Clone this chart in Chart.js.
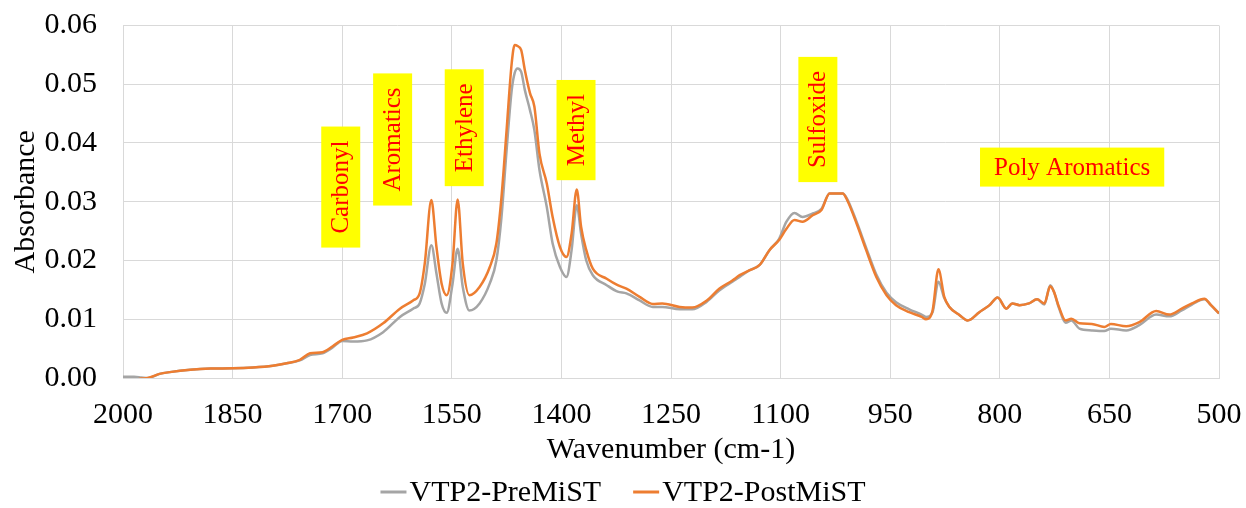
<!DOCTYPE html>
<html>
<head>
<meta charset="utf-8">
<title>FTIR spectra VTP2</title>
<script src="https://cdn.jsdelivr.net/npm/chart.js@4.4.1/dist/chart.umd.min.js"></script>
<style>
  html, body { margin: 0; padding: 0; background: #fff; }
  #wrap { width: 1246px; height: 508px; position: relative; }
</style>
</head>
<body>
<div id="wrap"><canvas id="spectrum"></canvas></div>
<script>
// wavenumber (cm-1) and absorbance for both samples
const wavenumbers = [
  2000, 1985, 1975, 1966, 1950, 1936, 1908, 1880, 1850, 1822, 1795, 1776, 1758, 1744, 1727, 1713,
  1700, 1685, 1666, 1644, 1621, 1603, 1594, 1587, 1578, 1571, 1564, 1557, 1549, 1542, 1535, 1526,
  1512, 1498, 1489, 1482, 1475, 1468, 1464, 1460, 1455, 1450, 1443, 1437, 1430, 1420, 1412, 1402,
  1393, 1386, 1379, 1373, 1366, 1357, 1338, 1323, 1311, 1293, 1275, 1262, 1238, 1221, 1201, 1184,
  1166, 1156, 1143, 1129, 1115, 1102, 1092, 1081, 1070, 1056, 1044, 1033, 1015, 1009, 996, 983,
  969, 955, 942, 924, 907, 901, 892, 884, 876, 869, 855, 844, 828, 814, 803, 791,
  783, 773, 760, 749, 739, 731, 726, 719, 710, 702, 691, 674, 657, 648, 627, 609,
  586, 568, 551, 537, 520, 511, 500
];
const preMiST = [
  0.0002, 0.0002, 0.0001, 0.0000, 0.0007, 0.0010, 0.0014, 0.0016, 0.00165, 0.0018, 0.0021, 0.0025, 0.0030, 0.0039, 0.0042, 0.0052,
  0.0063, 0.0062, 0.0064, 0.0078, 0.0104, 0.0118, 0.0127, 0.0160, 0.0226, 0.0178, 0.0127, 0.0111, 0.0160, 0.0220, 0.0155, 0.0115,
  0.0127, 0.0161, 0.0200, 0.0274, 0.0388, 0.0490, 0.0519, 0.0527, 0.0521, 0.0490, 0.0456, 0.0422, 0.0354, 0.0291, 0.0229, 0.0189,
  0.0172, 0.0218, 0.0294, 0.0245, 0.0200, 0.0175, 0.0158, 0.0147, 0.0144, 0.0132, 0.0121, 0.0121, 0.0117, 0.0117, 0.0130, 0.0149,
  0.0164, 0.0172, 0.0183, 0.0192, 0.0218, 0.0237, 0.0266, 0.0281, 0.0274, 0.0280, 0.0288, 0.0314, 0.0314, 0.0305, 0.0266, 0.0222,
  0.0176, 0.0145, 0.0129, 0.0117, 0.0108, 0.0104, 0.0112, 0.0164, 0.0136, 0.0121, 0.0107, 0.0098, 0.0112, 0.0124, 0.0137, 0.0118,
  0.0127, 0.0124, 0.0127, 0.0134, 0.0125, 0.0158, 0.0147, 0.0119, 0.0094, 0.0098, 0.0084, 0.0081, 0.0080, 0.0084, 0.0081, 0.0090,
  0.0108, 0.0105, 0.0115, 0.0125, 0.0134, 0.0124, 0.0110
];
const postMiST = [
  -0.0003, -0.0003, -0.0001, 0.0000, 0.0007, 0.0010, 0.0014, 0.0016, 0.00165, 0.0018, 0.0021, 0.0025, 0.0031, 0.0042, 0.0044, 0.0054,
  0.0065, 0.0069, 0.0076, 0.0093, 0.0118, 0.0132, 0.0144, 0.0195, 0.0303, 0.0223, 0.0161, 0.0141, 0.0195, 0.0304, 0.0195, 0.0141,
  0.0155, 0.0189, 0.0229, 0.0308, 0.0422, 0.0536, 0.0567, 0.0565, 0.0558, 0.0524, 0.0485, 0.0462, 0.0382, 0.0331, 0.0274, 0.0223,
  0.0206, 0.0246, 0.0321, 0.0257, 0.0218, 0.0186, 0.0169, 0.0158, 0.0152, 0.0138, 0.0126, 0.0127, 0.0121, 0.0120, 0.0132, 0.0152,
  0.0166, 0.0175, 0.0183, 0.0192, 0.0218, 0.0235, 0.0254, 0.0269, 0.0266, 0.0277, 0.0286, 0.0314, 0.0314, 0.0303, 0.0263, 0.0218,
  0.0172, 0.0141, 0.0124, 0.0112, 0.0104, 0.0100, 0.0115, 0.0185, 0.0138, 0.0121, 0.0107, 0.0098, 0.0112, 0.0124, 0.0137, 0.0118,
  0.0127, 0.0124, 0.0127, 0.0134, 0.0127, 0.0156, 0.0147, 0.0121, 0.0098, 0.0101, 0.0093, 0.0092, 0.0087, 0.0092, 0.0088, 0.0095,
  0.0114, 0.0108, 0.0118, 0.0127, 0.0135, 0.0124, 0.0110
];

// functional group labels: text, wavenumber and absorbance of the box centre, rotated or not
const groupNames = ['Carbonyl', 'Aromatics', 'Ethylene', 'Methyl', 'Sulfoxide', 'Poly Aromatics'];
const groupWavenumbers = [1702, 1631, 1533, 1380, 1049, 701];
const groupLevels = [0.0325, 0.0406, 0.0426, 0.0422, 0.0440, 0.0359];
const groupVertical = [true, true, true, true, true, false];

const FONT = "'Liberation Serif', 'Times New Roman', serif";

const toPoints = (ys) => wavenumbers.map((w, i) => ({ x: w, y: ys[i] }));

// yellow boxes with red text over the peaks
const groupLabels = {
  id: 'groupLabels',
  afterDatasetsDraw(chart) {
    const { ctx, scales } = chart;
    ctx.save();
    ctx.font = '25px ' + FONT;
    ctx.textAlign = 'center';
    ctx.textBaseline = 'middle';
    groupNames.forEach((name, i) => {
      const cx = scales.x.getPixelForValue(groupWavenumbers[i]);
      const cy = scales.y.getPixelForValue(groupLevels[i]);
      const len = ctx.measureText(name).width + 28;
      const thick = 39;
      ctx.save();
      ctx.translate(cx, cy);
      if (groupVertical[i]) ctx.rotate(-Math.PI / 2);
      ctx.fillStyle = '#FFFF00';
      ctx.fillRect(-len / 2, -thick / 2, len, thick);
      ctx.fillStyle = '#FF0000';
      ctx.fillText(name, 0, 1);
      ctx.restore();
    });
    ctx.restore();
  }
};

// legend drawn as short line + label, centred under the plot
const lineLegend = {
  id: 'lineLegend',
  afterDraw(chart) {
    const { ctx } = chart;
    const sets = chart.data.datasets;
    ctx.save();
    ctx.font = '30px ' + FONT;
    ctx.textBaseline = 'middle';
    const lineW = 26, gap = 3, itemGap = 32;
    const widths = sets.map(d => lineW + gap + ctx.measureText(d.label).width);
    const total = widths.reduce((a, b) => a + b, 0) + itemGap * (sets.length - 1);
    let x = (chart.width - total) / 2;
    const y = 492;
    sets.forEach((d, i) => {
      ctx.strokeStyle = d.borderColor;
      ctx.lineWidth = 3;
      ctx.beginPath();
      ctx.moveTo(x, y);
      ctx.lineTo(x + lineW, y);
      ctx.stroke();
      ctx.fillStyle = '#000';
      ctx.fillText(d.label, x + lineW + gap, y + 1);
      x += widths[i] + itemGap;
    });
    ctx.restore();
  }
};

new Chart(document.getElementById('spectrum'), {
  type: 'line',
  data: {
    datasets: [
      {
        label: 'VTP2-PreMiST',
        data: toPoints(preMiST),
        borderColor: '#A5A5A5',
        borderWidth: 2.5,
        pointRadius: 0,
        cubicInterpolationMode: 'monotone',
        order: 1
      },
      {
        label: 'VTP2-PostMiST',
        data: toPoints(postMiST),
        borderColor: '#ED7D31',
        borderWidth: 2.5,
        pointRadius: 0,
        cubicInterpolationMode: 'monotone',
        order: 0
      }
    ]
  },
  options: {
    responsive: true,
    maintainAspectRatio: false,
    animation: false,
    layout: { padding: { top: 25.5, right: 27, bottom: 40, left: 0 } },
    plugins: {
      legend: { display: false },
      tooltip: { enabled: false }
    },
    scales: {
      x: {
        type: 'linear',
        reverse: true,
        min: 500,
        max: 2000,
        ticks: {
          stepSize: 150,
          color: '#000',
          padding: 19,
          maxRotation: 0,
          font: { family: FONT, size: 30 },
          callback: (v) => String(v)
        },
        grid: { color: '#D9D9D9', lineWidth: 1, drawTicks: false },
        border: { color: '#D9D9D9' },
        title: {
          display: true,
          text: 'Wavenumber (cm-1)',
          color: '#000',
          font: { family: FONT, size: 30 },
          padding: { top: 0, bottom: 0 }
        },
        afterFit(scale) {
          scale.height = 90;
          scale.paddingLeft = 0;
          scale.paddingRight = 0;
        }
      },
      y: {
        min: 0,
        max: 0.06,
        ticks: {
          stepSize: 0.01,
          color: '#000',
          padding: 26,
          font: { family: FONT, size: 30 },
          callback: (v) => v.toFixed(2)
        },
        grid: { color: '#D9D9D9', lineWidth: 1, drawTicks: false },
        border: { color: '#D9D9D9' },
        title: {
          display: true,
          text: 'Absorbance',
          color: '#000',
          font: { family: FONT, size: 30 },
          padding: { top: 8, bottom: 0 }
        },
        afterFit(scale) {
          scale.width = 123;
          scale.paddingTop = 0;
          scale.paddingBottom = 0;
        }
      }
    }
  },
  plugins: [groupLabels, lineLegend]
});
</script>
</body>
</html>
